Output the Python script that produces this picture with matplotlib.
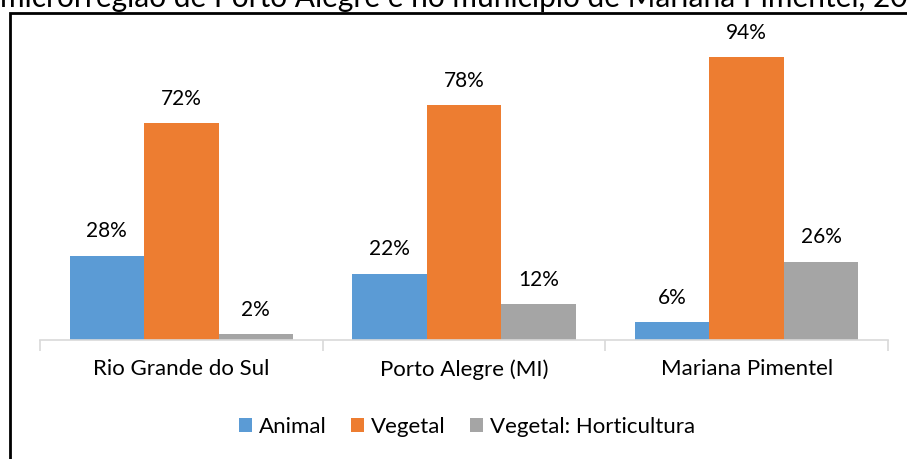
import numpy as np
import matplotlib.pyplot as plt
from matplotlib.patches import Rectangle

# dados
categorias = ["Rio Grande do Sul", "Porto Alegre (MI)", "Mariana Pimentel"]
series = ["Animal", "Vegetal", "Vegetal: Horticultura"]
animal = [28, 22, 6]
vegetal = [72, 78, 94]
horticultura = [2, 12, 26]
cores = ["#5b9bd5", "#ed7d31", "#a5a5a5"]
titulo = "microrregião de Porto Alegre e no município de Mariana Pimentel, 20"

plt.rcParams['font.family'] = ['Lato', 'DejaVu Sans']

fig = plt.figure(figsize=(9.07, 4.59), dpi=100)
ax = fig.add_axes([40/907, 1-340/459, 848/907, 301/459])

x = np.arange(len(categorias))
w = 0.2635
for i, (vals, nome) in enumerate(zip([animal, vegetal, horticultura], series)):
    pos = x + (i - 1) * w
    ax.bar(pos, vals, width=w, color=cores[i], label=nome)
    for p, v in zip(pos, vals):
        ax.annotate(f"{v}%", (p, v), xytext=(0, 17.5), textcoords='offset points',
                    ha='center', va='center', fontsize=15, color='#000000')

ax.set_xlim(-0.5, 2.5)
ax.set_ylim(0, 100)
ax.set_yticks([])
for s in ['top', 'right', 'left']:
    ax.spines[s].set_visible(False)
ax.spines['bottom'].set_color('#d9d9d9')
ax.spines['bottom'].set_linewidth(1.2)
ax.set_xticks(x)
ax.set_xticklabels(categorias, fontsize=16)
ax.tick_params(axis='x', which='major', length=0, pad=14)
ax.set_xticks([-0.5, 0.5, 1.5, 2.5], minor=True)
ax.tick_params(axis='x', which='minor', length=8, color='#d9d9d9', width=1.2)

ax.legend(loc='center', bbox_to_anchor=(467/907, 1-427/459), bbox_transform=fig.transFigure,
          ncol=3, frameon=False, fontsize=16, handlelength=0.6, handleheight=0.6,
          handletextpad=0.3, columnspacing=1.1)

# moldura e título cortado
fig.patches.append(Rectangle((10/907, -0.2), 1.0, 1.2 - 13/459, transform=fig.transFigure,
                             fill=False, edgecolor='black', linewidth=2, clip_on=False))
fig.text(0.0, 1-7/459, titulo, ha='left', va='baseline', fontsize=21.5)

fig.savefig("out.png", dpi=100)
